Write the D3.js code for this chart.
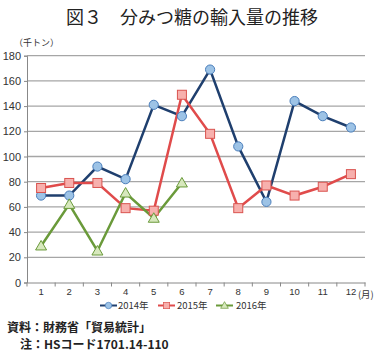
<!DOCTYPE html>
<html><head><meta charset="utf-8">
<script src="https://cdn.jsdelivr.net/npm/d3@7"></script>
<style>body{margin:0;background:#fff;}svg{display:block;font-family:"Noto Sans CJK JP","Noto Sans",sans-serif;}</style>
</head><body><svg id="c" width="380" height="358"></svg>
<script>
const months = [1,2,3,4,5,6,7,8,9,10,11,12];
const yTicks = [0,20,40,60,80,100,120,140,160,180];
const s2014 = [69,69,92,82,141,132,169,108,64,144,132,123];
const s2015 = [75,79,79,59,57,149,118,59,77,69,76,86];
const s2016 = [29,62,25,71,51,79];
const seriesNames = ["2014年","2015年","2016年"];

const svg = d3.select("#c");
const L=27, R=365, T=55.7, B=282.5;
const x = d3.scaleBand().domain(months).range([L,R]);
const y = d3.scaleLinear().domain([0,180]).range([B,T]);

svg.append("text").attr("x",192).attr("y",24).attr("text-anchor","middle")
  .attr("font-size",18).attr("font-weight",400).attr("fill","#222").text("図３　分みつ糖の輸入量の推移");
svg.append("text").attr("x",14).attr("y",46).attr("font-size",9).attr("fill","#333").text("（千トン）");

// gridlines
svg.append("g").selectAll("line").data(yTicks.filter(d=>d>0)).join("line")
  .attr("x1",L).attr("x2",R).attr("y1",d=>y(d)).attr("y2",d=>y(d))
  .attr("stroke","#a6a6a6").attr("stroke-width",1.3);
// y axis
const ya = svg.append("g").attr("transform",`translate(${L},0)`)
  .call(d3.axisLeft(y).tickValues(yTicks).tickSize(3).tickPadding(3));
ya.select(".domain").attr("stroke","#888");
ya.selectAll("line").attr("stroke","#888");
ya.selectAll("text").attr("font-size",11).attr("fill","#333").attr("font-family","Arial, 'Liberation Sans', sans-serif");
// x axis
const xa = svg.append("g").attr("transform",`translate(0,${B})`)
  .call(d3.axisBottom(x).tickSize(0).tickPadding(6).tickSizeOuter(0));
xa.select(".domain").attr("stroke","#888");
xa.selectAll("text").attr("font-size",9.5).attr("fill","#333").attr("font-family","Arial, 'Liberation Sans', sans-serif");
svg.append("g").selectAll("line").data(months.concat([13])).join("line")
  .attr("x1",d=>d<13?x(d):R).attr("x2",d=>d<13?x(d):R).attr("y1",B).attr("y2",B+4).attr("stroke","#888");
svg.append("text").attr("x",x(12)+x.bandwidth()/2+7).attr("y",B+15.5).attr("font-size",9.5).attr("fill","#333").text("(月)");

const cx = i => x(months[i]) + x.bandwidth()/2;
const line = d3.line().x((d,i)=>cx(i)).y(d=>y(d));
const cfg = [
  {data:s2014, stroke:"#1f3f6e", fill:"#9dc3e6", mstroke:"#4a7ebb", shape:"circle"},
  {data:s2015, stroke:"#e04b4b", fill:"#f7b0ad", mstroke:"#d9534f", shape:"square"},
  {data:s2016, stroke:"#6a9a3a", fill:"#d7e8bd", mstroke:"#6a9a3a", shape:"triangle"}
];
function marker(g, shape, px, py, c){
  if(shape==="circle") g.append("circle").attr("cx",px).attr("cy",py).attr("r",4.6).attr("fill",c.fill).attr("stroke",c.mstroke).attr("stroke-width",1);
  else if(shape==="square") g.append("rect").attr("x",px-4.5).attr("y",py-4.5).attr("width",9).attr("height",9).attr("fill",c.fill).attr("stroke",c.mstroke).attr("stroke-width",1);
  else g.append("path").attr("d",`M${px},${py-5.5}L${px+5.5},${py+4}L${px-5.5},${py+4}Z`).attr("fill",c.fill).attr("stroke",c.mstroke).attr("stroke-width",1);
}
cfg.forEach(c=>{
  svg.append("path").datum(c.data).attr("d",line).attr("fill","none").attr("stroke",c.stroke).attr("stroke-width",2.5);
});
cfg.forEach(c=>{
  const g=svg.append("g");
  c.data.forEach((v,i)=>marker(g,c.shape,cx(i),y(v),c));
});

// legend
const ly=305.5;
const lx=[100,158,216], lt=[118,177,236];
cfg.forEach((c,i)=>{
  svg.append("line").attr("x1",lx[i]).attr("x2",lx[i]+17).attr("y1",ly).attr("y2",ly).attr("stroke",c.stroke).attr("stroke-width",2);
  const g=svg.append("g").attr("transform",`translate(${lx[i]+8.5},${ly}) scale(0.7) translate(${-(lx[i]+8.5)},${-ly})`);
  marker(g,c.shape,lx[i]+8.5,ly,c);
  svg.append("text").attr("x",lt[i]).attr("y",ly+3.5).attr("font-size",9.5).attr("fill","#333").text(seriesNames[i]);
});

svg.append("text").attr("x",7).attr("y",332).attr("font-size",12).attr("font-weight",700).attr("fill","#222").text("資料：財務省「貿易統計」");
svg.append("text").attr("x",20).attr("y",349).attr("font-size",12).attr("font-weight",700).attr("fill","#222").text("注：HSコード1701.14-110");
</script></body></html>
